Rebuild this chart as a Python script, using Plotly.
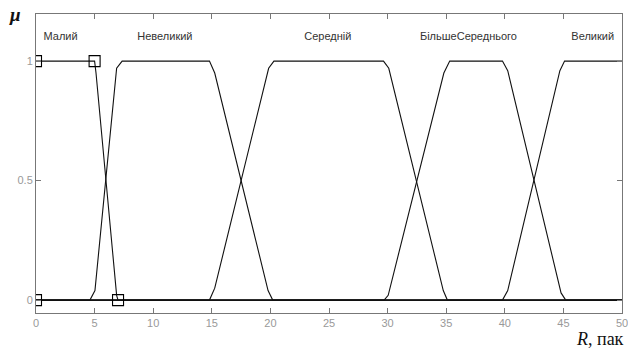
import plotly.graph_objects as go

# Membership functions
maliy_x = [0, 5.0, 5.12, 6.88, 7.0, 50]
maliy_y = [1, 1, 0.95, 0.02, 0, 0]

nevelykyi_x = [0, 4.6, 5.03, 6.88, 7.35, 14.8, 15.25, 19.8, 20.2, 50]
nevelykyi_y = [0, 0, 0.04, 0.97, 1, 1, 0.95, 0.04, 0, 0]

seredniy_x = [0, 14.8, 15.25, 19.85, 20.3, 29.65, 30.1, 34.75, 35.1, 50]
seredniy_y = [0, 0, 0.05, 0.97, 1, 1, 0.97, 0.04, 0, 0]

bilshe_x = [0, 29.7, 30.05, 34.8, 35.3, 39.8, 40.25, 44.8, 45.2, 50]
bilshe_y = [0, 0, 0.02, 0.95, 1, 1, 0.96, 0.03, 0, 0]

velykyi_x = [0, 39.8, 40.25, 44.7, 45.1, 50]
velykyi_y = [0, 0, 0.04, 0.96, 1, 1]

# Control-point markers
marker_x = [0, 5, 0, 7]
marker_y = [1, 1, 0, 0]

# Term labels
term_names = ["Малий", "Невеликий", "Середній", "БільшеСереднього", "Великий"]
term_x = [2.1, 11.0, 24.9, 36.9, 47.5]
term_y = [1.1, 1.1, 1.1, 1.1, 1.1]

x_ticks = [0, 5, 10, 15, 20, 25, 30, 35, 40, 45, 50]
y_ticks = [0, 0.5, 1]

fig = go.Figure()
for xs, ys in [(maliy_x, maliy_y), (nevelykyi_x, nevelykyi_y), (seredniy_x, seredniy_y),
               (bilshe_x, bilshe_y), (velykyi_x, velykyi_y)]:
    fig.add_trace(go.Scatter(x=xs, y=ys, mode="lines",
                             line=dict(color="#111111", width=1.1),
                             showlegend=False, hoverinfo="skip"))

fig.add_trace(go.Scatter(x=marker_x, y=marker_y, mode="markers",
                         marker=dict(symbol="square-open", size=11, color="#000000",
                                     line=dict(width=1.1, color="#000000")),
                         cliponaxis=True, showlegend=False))

fig.add_trace(go.Scatter(x=term_x, y=term_y, mode="text", text=term_names,
                         textfont=dict(family="Liberation Sans, Arial", size=11, color="#333333"),
                         showlegend=False, hoverinfo="skip"))

fig.add_annotation(xref="paper", yref="paper", x=-0.0358, y=0.997, xanchor="center", yanchor="middle",
                   text="<i><b>μ</b></i>", showarrow=False,
                   font=dict(family="Liberation Serif, Times New Roman", size=19, color="#111111"))
fig.add_annotation(xref="paper", yref="paper", x=0.963, y=-0.087, xanchor="center", yanchor="middle",
                   text="<i>R</i>, пак", showarrow=False,
                   font=dict(family="Liberation Serif, Times New Roman", size=18, color="#111111"))

fig.update_xaxes(range=[0, 50], tickvals=x_ticks, ticks="inside", ticklen=5, tickcolor="#777777",
                 showline=True, linecolor="#777777", linewidth=1, mirror="ticks",
                 showgrid=False, zeroline=False, ticklabeloverflow="allow", automargin=False,
                 tickfont=dict(family="Liberation Sans, Arial", size=11, color="#999999"))
fig.update_yaxes(range=[-0.054, 1.197], tickvals=y_ticks, ticktext=["0", "0.5", "1"],
                 ticks="inside", ticklen=5, tickcolor="#777777",
                 showline=True, linecolor="#777777", linewidth=1, mirror="ticks",
                 showgrid=False, zeroline=False, automargin=False,
                 tickfont=dict(family="Liberation Sans, Arial", size=11, color="#999999"))

fig.update_layout(width=628, height=352, margin=dict(l=36, r=6, t=14, b=39),
                  paper_bgcolor="white", plot_bgcolor="white")

fig.write_html("out.html", config={"displayModeBar": False},
               post_script="document.body.style.margin='0';")
